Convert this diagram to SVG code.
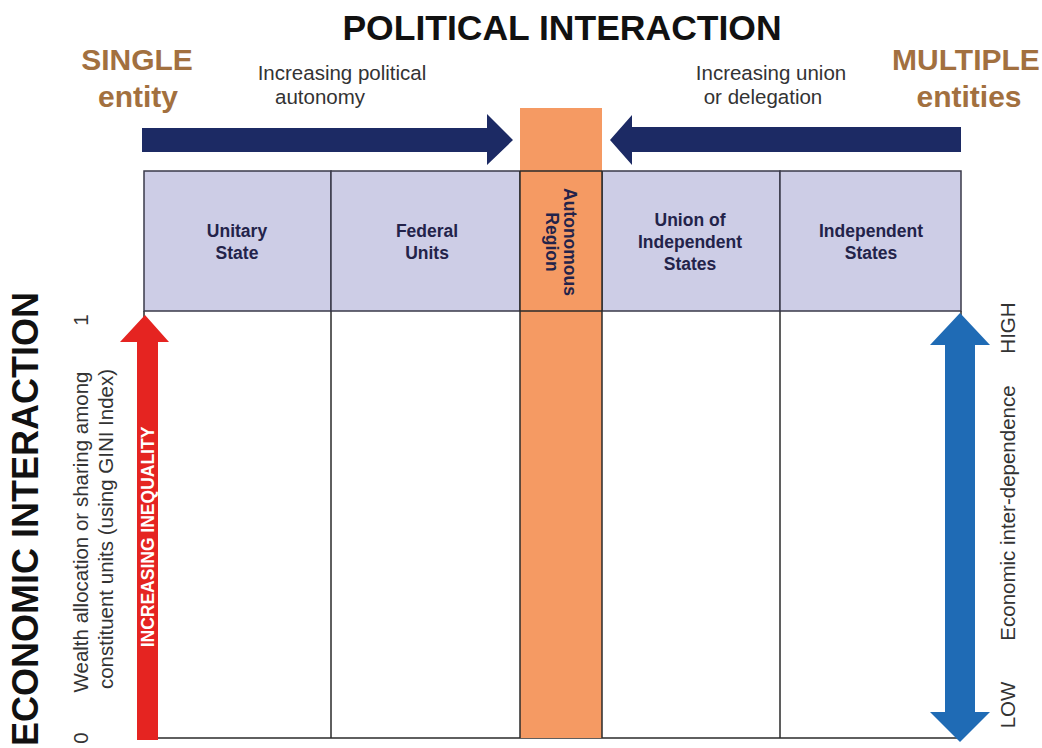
<svg xmlns="http://www.w3.org/2000/svg" width="1042" height="748" viewBox="0 0 1042 748">
<style>
  .title{font-family:"Liberation Sans",Arial,sans-serif;font-weight:bold;fill:#111;}
  .brown{font-family:"Liberation Sans",Arial,sans-serif;font-weight:bold;fill:#A2703F;font-size:30px;text-anchor:middle;}
  .note{font-family:"Liberation Sans",Arial,sans-serif;fill:#333;font-size:20.5px;text-anchor:middle;}
  .cell{fill:#CDCDE6;stroke:#3a3a4a;stroke-width:1.5;}
  .lab{font-family:"Liberation Sans",Arial,sans-serif;font-weight:bold;fill:#23234a;font-size:17.5px;text-anchor:middle;}
  .axis{font-family:"Liberation Sans",Arial,sans-serif;fill:#333;font-size:20.5px;text-anchor:middle;}
  .grid{stroke:#2a2a2a;stroke-width:1.5;fill:none;}
  .navy{fill:#1C2A64;}
</style>
<rect width="1042" height="748" fill="#fff"/>

<g id="titles">
  <text class="title" x="562" y="40" font-size="35.5" text-anchor="middle">POLITICAL INTERACTION</text>
  <text class="brown" x="137" y="70">SINGLE</text>
  <text class="brown" x="138" y="107">entity</text>
  <text class="brown" x="966" y="70">MULTIPLE</text>
  <text class="brown" x="969" y="107">entities</text>
  <text class="note" x="342" y="80">Increasing political</text>
  <text class="note" x="320" y="104">autonomy</text>
  <text class="note" x="771" y="80">Increasing union</text>
  <text class="note" x="763" y="104">or delegation</text>
</g>

<g id="table-body">
  <rect x="144" y="311" width="817" height="427" fill="#fff"/>
  <line class="grid" x1="331" y1="311" x2="331" y2="738"/>
  <line class="grid" x1="780" y1="311" x2="780" y2="738"/>
  <line class="grid" x1="144" y1="738" x2="961" y2="738"/>
  <line class="grid" x1="144" y1="311" x2="144" y2="738"/>
  <line class="grid" x1="961" y1="311" x2="961" y2="738"/>
</g>

<g id="unitary-state">
  <rect class="cell" x="144" y="171" width="187" height="140"/>
  <text class="lab" x="237" y="237">Unitary</text>
  <text class="lab" x="237" y="259">State</text>
</g>
<g id="federal-units">
  <rect class="cell" x="331" y="171" width="189" height="140"/>
  <text class="lab" x="427" y="237">Federal</text>
  <text class="lab" x="427" y="259">Units</text>
</g>
<g id="union-of-independent-states">
  <rect class="cell" x="602" y="171" width="178" height="140"/>
  <text class="lab" x="690" y="226">Union of</text>
  <text class="lab" x="690" y="248">Independent</text>
  <text class="lab" x="690" y="270">States</text>
</g>
<g id="independent-states">
  <rect class="cell" x="780" y="171" width="181" height="140"/>
  <text class="lab" x="871" y="237">Independent</text>
  <text class="lab" x="871" y="259">States</text>
</g>
<g id="autonomous-region">
  <rect x="520" y="108" width="82" height="630" fill="#F59A63"/>
  <line class="grid" x1="520" y1="171" x2="520" y2="738"/>
  <line class="grid" x1="602" y1="171" x2="602" y2="738"/>
  <line class="grid" x1="520" y1="171" x2="602" y2="171"/>
  <line class="grid" x1="520" y1="311" x2="602" y2="311"/>
  <g transform="translate(561,242) rotate(90)">
    <text class="lab" x="0" y="-3">Autonomous</text>
    <text class="lab" x="0" y="15">Region</text>
  </g>
</g>

<g id="economic-axis">
  <text class="title" transform="translate(38,519) rotate(-90)" font-size="36" text-anchor="middle">ECONOMIC INTERACTION</text>
  <g transform="translate(88,532) rotate(-90)">
    <text class="axis" x="0" y="0">Wealth allocation or sharing among</text>
    <text class="axis" x="3" y="25">constituent units (using GINI Index)</text>
  </g>
  <text class="axis" transform="translate(88,320) rotate(-90)" font-size="19">1</text>
  <text class="axis" transform="translate(88,738) rotate(-90)" font-size="19">0</text>
  <text class="axis" transform="translate(1015,328) rotate(-90)">HIGH</text>
  <text class="axis" transform="translate(1015,513) rotate(-90)">Economic inter-dependence</text>
  <text class="axis" transform="translate(1015,705) rotate(-90)">LOW</text>
</g>

<g id="connectors">
  <polygon class="navy" points="142,128 487,128 487,114 513,140 487,165 487,152 142,152"/>
  <polygon class="navy" points="961,127 632,127 632,115 610,140 632,165 632,152 961,152"/>
  <polygon fill="#E52421" points="137,740 137,342 120,342 145,315 169,342 158,342 158,740"/>
  <text transform="translate(148,537) rotate(-90)" font-family="Liberation Sans, Arial, sans-serif" font-weight="bold" font-size="17.5" fill="#fff" text-anchor="middle" dominant-baseline="central">INCREASING  INEQUALITY</text>
  <polygon fill="#1F6BB5" points="960,313 990,345 975,345 975,712 990,712 960,742 930,712 945,712 945,345 930,345"/>
</g>
</svg>
